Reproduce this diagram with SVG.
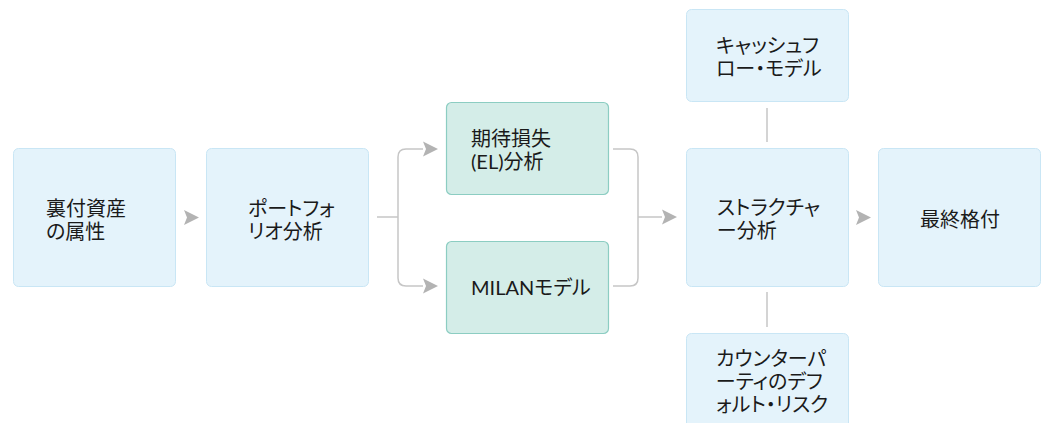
<svg xmlns="http://www.w3.org/2000/svg" width="1043" height="423" viewBox="0 0 1043 423">
  <style>
    .box { fill: #e4f3fb; stroke: #c9e6f5; stroke-width: 1; }
    .teal { fill: #d4ede8; stroke: #8ccdc2; stroke-width: 1.2; }
    .lbl { font-family: "Lato", "Noto Sans CJK JP", sans-serif; font-size: 20px; fill: #1a1a1a; font-feature-settings: "palt"; }
    .conn { fill: none; stroke: #c6c6c6; stroke-width: 1.5; }
    .head { fill: #b3b3b3; }
  </style>
  <defs>
    <path id="ah" d="M -15 -7.5 L 0 0 L -15 7.5 L -12 0 Z" class="head"/>
  </defs>
  <rect width="1043" height="423" fill="#ffffff"/>

  <g id="connectors">
    <path class="conn" d="M377 217 H398 M423 149 H406 Q398 149 398 157 V278 Q398 286 406 286 H423"/>
    <path class="conn" d="M613 149 H630 Q638 149 638 157 V278 Q638 286 630 286 H613 M638 217 H662"/>
    <path class="conn" d="M767 108 V142 M767 292 V327"/>
    <use href="#ah" x="199" y="217.5"/>
    <use href="#ah" x="438" y="149"/>
    <use href="#ah" x="438" y="286"/>
    <use href="#ah" x="677" y="217"/>
    <use href="#ah" x="871" y="217.5"/>
  </g>

  <g id="node-ura">
    <rect class="box" x="13.5" y="148.5" width="162" height="138" rx="5"/>
    <text class="lbl" x="46" y="216">裏付資産</text>
    <text class="lbl" x="46" y="239">の属性</text>
  </g>

  <g id="node-portfolio">
    <rect class="box" x="206.5" y="148.5" width="162" height="138" rx="5"/>
    <text class="lbl" x="248" y="216">ポートフォ</text>
    <text class="lbl" x="248" y="239">リオ分析</text>
  </g>

  <g id="node-el">
    <rect class="teal" x="446.5" y="102.5" width="162" height="92" rx="5"/>
    <text class="lbl" x="471" y="146">期待損失</text>
    <text class="lbl" x="471" y="169">(EL)分析</text>
  </g>

  <g id="node-milan">
    <rect class="teal" x="446.5" y="241.5" width="162" height="92" rx="5"/>
    <text class="lbl" x="471" y="295">MILANモデル</text>
  </g>

  <g id="node-cashflow">
    <rect class="box" x="686.5" y="9.5" width="162" height="92" rx="5"/>
    <text class="lbl" x="716" y="53">キャッシュフ</text>
    <text class="lbl" x="716" y="76">ロー・モデル</text>
  </g>

  <g id="node-structure">
    <rect class="box" x="686.5" y="148.5" width="162" height="138" rx="5"/>
    <text class="lbl" x="717" y="215">ストラクチャ</text>
    <text class="lbl" x="717" y="238">ー分析</text>
  </g>

  <g id="node-final">
    <rect class="box" x="878.5" y="148.5" width="162" height="138" rx="5"/>
    <text class="lbl" x="920" y="227">最終格付</text>
  </g>

  <g id="node-counterparty">
    <rect class="box" x="686.5" y="333.5" width="162" height="110" rx="5"/>
    <text class="lbl" x="716" y="366">カウンターパ</text>
    <text class="lbl" x="716" y="389">ーティのデフ</text>
    <text class="lbl" x="716" y="412">ォルト・リスク</text>
  </g>
</svg>
